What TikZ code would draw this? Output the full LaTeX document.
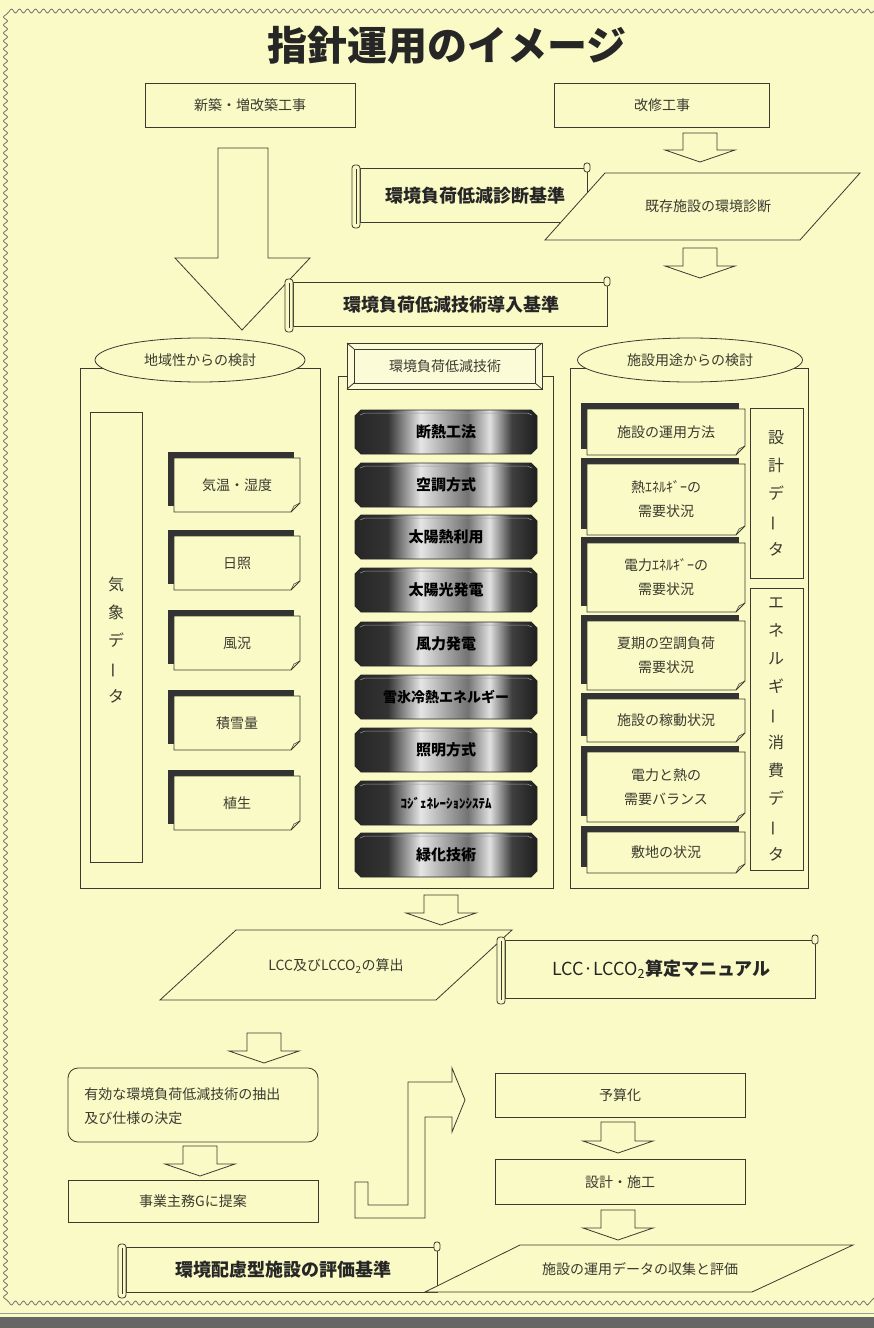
\documentclass[tikz,border=0pt]{standalone}
\usepackage{fontspec}
\setmainfont{Noto Sans CJK JP}
\usetikzlibrary{decorations.pathmorphing,shapes.geometric}
\definecolor{bg}{HTML}{FAFAC6}
\definecolor{ln}{HTML}{3A3A30}
\pgfdeclarehorizontalshading{bannshade}{100bp}{color(0bp)=(black!85); color(25bp)=(black!85); color(34bp)=(black!80); color(43bp)=(black!10); color(50bp)=(black!35); color(56bp)=(black!55); color(62bp)=(black!12); color(68bp)=(black!75); color(75bp)=(black!88); color(100bp)=(black!88)}
\newcommand\DocBox[6]{%
  \fill[black!80] (#2,#3) rectangle (#4-6,#5-6);
  \draw[fill=bg] (#2+6,#3+6) -- (#4,#3+6) -- (#4,#5-9) -- (#4-9,#5) -- (#2+6,#5) -- cycle;
  \draw[line width=0.6pt] (#4,#5-9) -- (#4-6,#5-6) -- (#4-9,#5);
  \node[txt] (#1) at ({(#2+#4)/2+3},{(#3+#5)/2+3}) {#6};
}
\newcommand\Banner[3]{%
  \shade[shading=bannshade, draw=black!85] (355,#2-16) -- (361,#2-22) -- (531,#2-22) -- (537,#2-16) -- (537,#2+16) -- (531,#2+22) -- (361,#2+22) -- (355,#2+16) -- cycle;
  \draw[black!40, line width=0.5pt] (360,#2-17) -- (365,#2-19) -- (527,#2-19) -- (532,#2-17);
  \node[bantxt] (#1) at (446,#2) {#3};
}
\newcommand\ScrollBox[6]{%
  \draw[fill=bg] (#2+8,#3+5) -- (#4-3,#3+5) -- (#4-3,#5-6) -- (#2+8,#5-6) -- cycle;
  \draw[fill=bg, rounded corners=2.5pt] (#4-6,#3) rectangle (#4,#3+9);
  \draw[fill=bg, rounded corners=3pt] (#2,#3+2) rectangle (#2+8,#5);
  \draw[line width=0.5pt] (#2+4,#3+6) -- (#2+4,#5-4);
  \node[scrtxt] (#1) at ({(#2+#4)/2+4},{(#3+#5)/2}) {#6};
}
\newcommand\HArrow[3]{%
  \draw[fill=bg] (#1-17,#2) -- (#1+17,#2) -- (#1+17,#3-12) -- (#1+35,#3-12) -- (#1,#3) -- (#1-35,#3-12) -- (#1-17,#3-12) -- cycle;
}
\begin{document}
\begin{tikzpicture}[x=1pt,y=-1pt,line width=0.8pt,draw=ln,
  txt/.style={font=\fontsize{14}{24}\selectfont, text=ln, align=center, inner sep=0pt},
  bantxt/.style={font=\fontsize{15}{18}\selectfont\bfseries, text=black, inner sep=0pt},
  scrtxt/.style={font=\fontsize{18}{21}\selectfont\bfseries, text=black!85, inner sep=0pt},
  vtxt/.style={font=\fontsize{16}{28}\selectfont, text=ln, align=center, inner sep=0pt},
  plain/.style={draw=ln, fill=bg},
  ell/.style={draw=ln, fill=bg, ellipse, inner sep=0pt, font=\fontsize{14}{17}\selectfont, text=ln}]
\useasboundingbox (0,0) rectangle (874,1328);
\fill[bg] (0,0) rectangle (874,1328);
% wavy frame
\draw[black!55, line width=0.8pt, decorate, decoration={snake, amplitude=2pt, segment length=8pt}] (874,11) -- (9,11) -- (9,1298) -- (874,1298);
\fill[black!60] (0,1317) rectangle (874,1328);
\draw[black!40, line width=1pt] (0,1313) -- (874,1313);

% title
\node[font=\fontsize{40}{44}\selectfont\bfseries, text=black!85] (title) at (447,45) {指針運用のイメージ};

% top boxes
\node[plain, minimum width=210, minimum height=44, txt, draw] (new) at (250,105) {新築・増改築工事};
\node[plain, minimum width=215, minimum height=44, txt, draw] (renov) at (662,105) {改修工事};

% big arrow
\draw[fill=bg] (218,148) -- (268,148) -- (268,258) -- (310,258) -- (242,330) -- (175,258) -- (218,258) -- cycle;
\HArrow{700}{133}{162}

% scroll 1 and parallelogram
\ScrollBox{diag}{352}{163}{590}{228}{環境負荷低減診断基準}
\draw[fill=bg] (545,240) -- (605,173) -- (860,173) -- (800,240) -- cycle;
\node[txt] (exist) at (708,206) {既存施設の環境診断};
\HArrow{700}{248}{278}

% scroll 2
\ScrollBox{intro}{285}{277}{610}{332}{環境負荷低減技術導入基準}

% panels
\draw (80,368) rectangle (320,888);
\node[ell, minimum width=210, minimum height=44] (reg) at (200,360) {地域性からの検討};
\draw (338,376) rectangle (553,888);
\draw (570,368) rectangle (808,888);
\node[ell, minimum width=225, minimum height=44] (use) at (690,360) {施設用途からの検討};

% bevel header
\draw[fill=bg!70!white] (347,343) rectangle (542,389);
\draw (354,349) rectangle (535,383);
\draw (347,343) -- (354,349) (542,343) -- (535,349) (347,389) -- (354,383) (542,389) -- (535,383);
\node[txt] (tech) at (445,366) {環境負荷低減技術};

% left column
\draw (90,412) rectangle (142,862);
\node[vtxt] (kisho) at (116,640) {気\\象\\デ\\\rotatebox[origin=c]{90}{ー}\\タ};
\DocBox{t1}{168}{452}{300}{512}{気温・湿度}
\DocBox{t2}{168}{530}{300}{590}{日照}
\DocBox{t3}{168}{610}{300}{670}{風況}
\DocBox{t4}{168}{690}{300}{750}{積雪量}
\DocBox{t5}{168}{770}{300}{830}{植生}

% middle column
\Banner{b1}{432}{断熱工法}
\Banner{b2}{485}{空調方式}
\Banner{b3}{537}{太陽熱利用}
\Banner{b4}{590}{太陽光発電}
\Banner{b5}{644}{風力発電}
\Banner{b6}{697}{\fontsize{14}{16}\selectfont 雪氷冷熱エネルギー}
\Banner{b7}{750}{照明方式}
\Banner{b8}{803}{\fontsize{13}{16}\selectfont ｺｼﾞｪﾈﾚｰｼｮﾝｼｽﾃﾑ}
\Banner{b9}{855}{緑化技術}

% right column
\DocBox{r1}{581}{403}{745}{455}{施設の運用方法}
\DocBox{r2}{581}{458}{745}{535}{熱ｴﾈﾙｷﾞｰの\\需要状況}
\DocBox{r3}{581}{537}{745}{612}{電力ｴﾈﾙｷﾞｰの\\需要状況}
\DocBox{r4}{581}{615}{745}{690}{夏期の空調負荷\\需要状況}
\DocBox{r5}{581}{693}{745}{742}{施設の稼動状況}
\DocBox{r6}{581}{746}{745}{822}{電力と熱の\\需要バランス}
\DocBox{r7}{581}{826}{745}{873}{敷地の状況}
\draw (750,408) rectangle (803,578);
\node[vtxt] (sekkei) at (776,493) {設\\計\\デ\\\rotatebox[origin=c]{90}{ー}\\タ};
\draw (750,588) rectangle (803,870);
\node[vtxt] (energy) at (776,729) {エ\\ネ\\ル\\ギ\\\rotatebox[origin=c]{90}{ー}\\消\\費\\デ\\\rotatebox[origin=c]{90}{ー}\\タ};

% bottom section
\HArrow{441}{895}{925}
\draw[fill=bg] (160,1000) -- (236,930) -- (512,930) -- (436,1000) -- cycle;
\node[txt] (lcc) at (336,966) {LCC及びLCCO\textsubscript{2}の算出};
\ScrollBox{manual}{497}{935}{818}{1004}{{\mdseries LCC·LCCO\textsubscript{2}}算定マニュアル}

\HArrow{264}{1033}{1063}
\draw[fill=bg, rounded corners=10pt] (68,1068) rectangle (318,1142);
\node[txt, align=left, anchor=west] (extract) at (84,1106) {有効な環境負荷低減技術の抽出\\及び仕様の決定};
\HArrow{200}{1146}{1176}
\node[plain, minimum width=250, minimum height=42, txt, draw] (propose) at (193,1201) {事業主務Gに提案};

% elbow arrow
\draw[fill=bg] (355,1182) -- (355,1218) -- (425,1218) -- (425,1117) -- (452,1117) -- (452,1132) -- (465,1100) -- (452,1068) -- (452,1082) -- (408,1082) -- (408,1205) -- (368,1205) -- (368,1182) -- cycle;

\node[plain, minimum width=250, minimum height=44, txt, draw] (budget) at (620,1095) {予算化};
\HArrow{618}{1122}{1153}
\node[plain, minimum width=250, minimum height=45, txt, draw] (build) at (620,1182) {設計・施工};
\HArrow{618}{1210}{1240}

\ScrollBox{evalstd}{118}{1242}{440}{1298}{環境配慮型施設の評価基準}
\draw[fill=bg] (425,1292) -- (520,1245) -- (853,1245) -- (752,1292) -- cycle;
\node[txt] (opdata) at (640,1269) {施設の運用データの収集と評価};
\end{tikzpicture}
\end{document}
